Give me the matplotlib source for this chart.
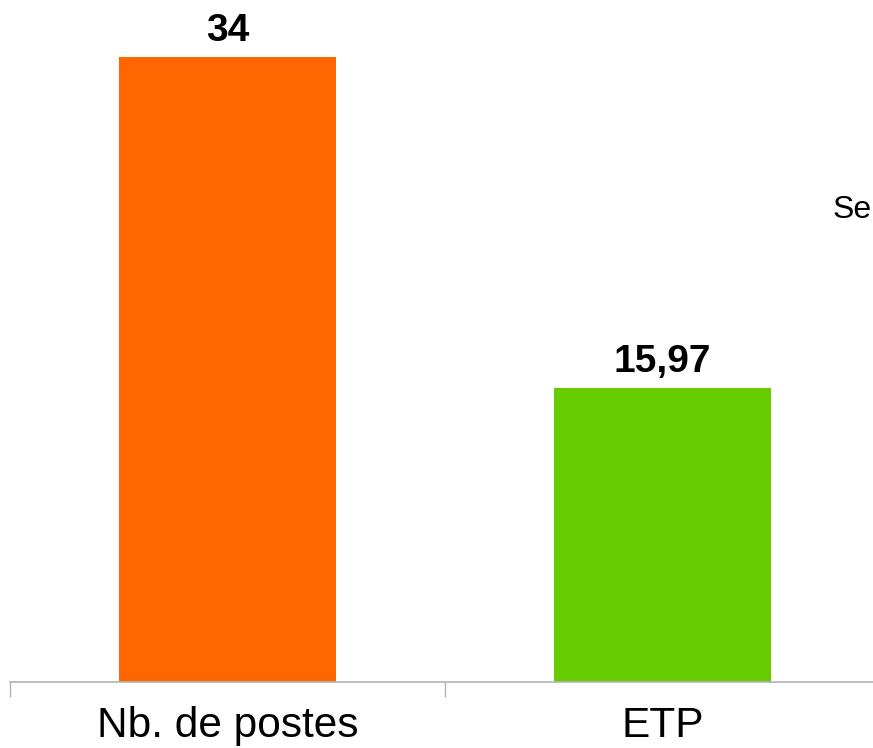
import matplotlib
matplotlib.use("Agg")
import matplotlib.pyplot as plt

plt.rcParams['font.family'] = ['Liberation Sans', 'DejaVu Sans']

categories = ['Nb. de postes', 'ETP']
valeurs = [34, 15.97]
etiquettes = ['34', '15,97']
couleurs = ['#ff6600', '#66cc00']

fig = plt.figure(figsize=(8.73, 7.48), dpi=100)
# axe : x de 10 a 880 px, ligne de base a y=682 px
ax = fig.add_axes([10/873, (748-682)/748, 870/873, (682-20)/748])

x = range(len(categories))
barres = ax.bar(x, valeurs, width=0.5, color=couleurs)
ax.set_xlim(-0.5, 1.5)
ax.set_ylim(0, 36)

for b, txt in zip(barres, etiquettes):
    ax.text(b.get_x() + b.get_width()/2, b.get_height() + 0.45, txt,
            ha='center', va='bottom', fontsize=28, fontweight='bold')

ax.set_xticks([-0.5, 0.5, 1.5])
ax.set_xticklabels([])
ax.set_xticks([0, 1], minor=True)
ax.set_xticklabels(categories, minor=True, fontsize=30.5)
ax.tick_params(axis='x', which='major', length=11, color='#b3b3b3', width=1)
ax.tick_params(axis='x', which='minor', length=0, pad=17)
ax.set_yticks([])
for s in ['top', 'right', 'left']:
    ax.spines[s].set_visible(False)
ax.spines['bottom'].set_color('#b3b3b3')
ax.spines['bottom'].set_linewidth(1.2)

# legende coupee par le bord (comme dans l'original)
fig.text(833/873, 1 - 218/748, 'Series1', fontsize=23, ha='left', va='baseline')

fig.savefig('out.png', dpi=100)
